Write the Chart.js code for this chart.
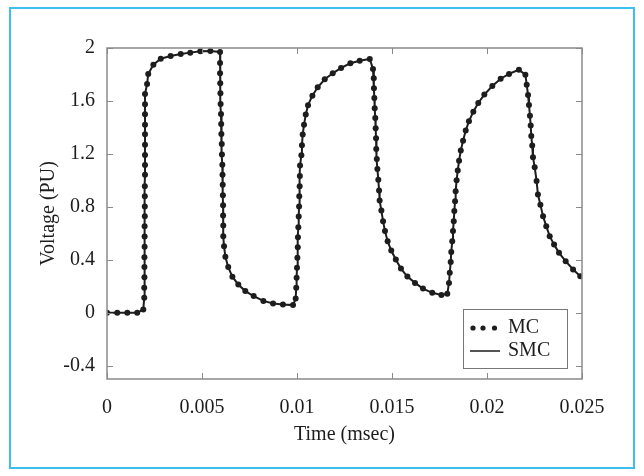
<!DOCTYPE html>
<html>
<head>
<meta charset="utf-8">
<script src="https://cdn.jsdelivr.net/npm/chart.js@4.4.1/dist/chart.umd.min.js"></script>
<style>
  html, body { margin: 0; padding: 0; background: #fff; }
  #wrap { position: relative; width: 644px; height: 476px; }
  #frame { position: absolute; left: 9px; top: 7px; width: 622px; height: 458px; border: 2px solid #3cbfef; }
  canvas { position: absolute; left: 0; top: 0; }
</style>
</head>
<body>
<div id="wrap">
  <div id="frame"></div>
  <canvas id="voltChart" width="644" height="476"></canvas>
</div>
<script>
// values (time in ms axis units, voltage in PU)
const mcTime = [
  0, 0.00054, 0.00107, 0.00159, 0.00191,
  0.00196, 0.00196, 0.00197, 0.00197, 0.00197, 0.00198, 0.00198, 0.00198, 0.00199, 0.00199, 0.00199, 0.00199,
  0.00200, 0.00200, 0.00200, 0.00200, 0.00200, 0.00200, 0.00200, 0.00200, 0.00200, 0.00211, 0.00217,
  0.00244, 0.00283, 0.00335, 0.00388, 0.00438, 0.00491, 0.00544, 0.00595,
  0.00595, 0.00595, 0.00596, 0.00597, 0.00598, 0.00600, 0.00601, 0.00602, 0.00604, 0.00605, 0.00607, 0.00608,
  0.00609, 0.00610, 0.00611, 0.00611, 0.00612, 0.00612, 0.00616, 0.00623, 0.00638, 0.00660, 0.00691, 0.00728,
  0.00772, 0.00823, 0.00874, 0.00926, 0.00979,
  0.00993, 0.00996, 0.00998, 0.01000, 0.01002, 0.01004, 0.01005, 0.01007, 0.01009, 0.01011, 0.01012, 0.01014,
  0.01015, 0.01016, 0.01023, 0.01026, 0.01030, 0.01037, 0.01046, 0.01058, 0.01081, 0.01109, 0.01146, 0.01188,
  0.01232, 0.01281, 0.01330, 0.01383,
  0.01400, 0.01404, 0.01405, 0.01407, 0.01409, 0.01412, 0.01414, 0.01416, 0.01417, 0.01420, 0.01423, 0.01428,
  0.01432, 0.01435, 0.01444, 0.01453, 0.01463, 0.01477, 0.01496, 0.01520, 0.01547, 0.01581, 0.01621, 0.01663,
  0.01712, 0.01760, 0.01791,
  0.01800, 0.01804, 0.01809, 0.01812, 0.01817, 0.01821, 0.01825, 0.01828, 0.01832, 0.01835, 0.01840, 0.01846,
  0.01853, 0.01862, 0.01874, 0.01888, 0.01905, 0.01928, 0.01954, 0.01986, 0.02028, 0.02072, 0.02116, 0.02168,
  0.02202, 0.02209, 0.02216, 0.02221, 0.02226, 0.02230, 0.02233, 0.02238, 0.02242, 0.02251, 0.02261, 0.02268,
  0.02281, 0.02295, 0.02312, 0.02330, 0.02353, 0.02379, 0.02414, 0.02453, 0.02491
];
const mcVoltage = [
  0, 0, 0, 0, 0.025,
  0.113, 0.189, 0.269, 0.345, 0.420, 0.498, 0.576, 0.654, 0.730, 0.802, 0.881, 0.956,
  1.042, 1.117, 1.192, 1.270, 1.349, 1.421, 1.500, 1.575, 1.653, 1.728, 1.804,
  1.874, 1.919, 1.940, 1.955, 1.965, 1.975, 1.977, 1.970,
  1.887, 1.809, 1.734, 1.658, 1.577, 1.502, 1.426, 1.351, 1.275, 1.195, 1.119, 1.042,
  0.968, 0.888, 0.813, 0.734, 0.659, 0.579, 0.503, 0.423, 0.345, 0.272, 0.214, 0.164,
  0.126, 0.090, 0.070, 0.063, 0.058,
  0.108, 0.189, 0.264, 0.340, 0.415, 0.496, 0.571, 0.647, 0.727, 0.802, 0.881, 0.956,
  1.034, 1.112, 1.190, 1.266, 1.346, 1.421, 1.497, 1.568, 1.640, 1.703, 1.764, 1.809,
  1.849, 1.885, 1.904, 1.917,
  1.842, 1.771, 1.696, 1.623, 1.545, 1.472, 1.394, 1.318, 1.238, 1.162, 1.087, 1.004,
  0.923, 0.848, 0.772, 0.692, 0.617, 0.541, 0.470, 0.402, 0.334, 0.274, 0.226, 0.183,
  0.151, 0.134, 0.143,
  0.226, 0.302, 0.383, 0.460, 0.541, 0.617, 0.692, 0.768, 0.843, 0.918, 1.002, 1.074,
  1.149, 1.225, 1.300, 1.376, 1.447, 1.519, 1.585, 1.648, 1.713, 1.768, 1.804, 1.836,
  1.798, 1.723, 1.645, 1.570, 1.489, 1.414, 1.336, 1.263, 1.175, 1.100, 0.996, 0.893,
  0.817, 0.730, 0.654, 0.579, 0.515, 0.453, 0.390, 0.327, 0.277
];
// SMC trace lies on top of the MC samples, ends at the right edge
const smcEndTime = 0.025;
const smcEndVoltage = 0.27;

const xTicks = [0, 0.005, 0.01, 0.015, 0.02, 0.025];
const yTicks = [-0.4, 0, 0.4, 0.8, 1.2, 1.6, 2];
const seriesNames = ['MC', 'SMC'];

const mcPoints = mcTime.map((t, i) => ({x: t, y: mcVoltage[i]}));
const smcPoints = mcPoints.concat([{x: smcEndTime, y: smcEndVoltage}]);

const ink = '#1d1d1d';
const axisGray = '#8a8a8a';
const serif = "'Liberation Serif', 'DejaVu Serif', serif";

const tickFormat = v => String(+Number(v).toFixed(3));

// inward ticks on all 4 sides + box around the plot
const boxTicks = {
  id: 'boxTicks',
  afterDatasetsDraw(chart) {
    const {ctx, chartArea: a, scales} = chart;
    ctx.save();
    ctx.strokeStyle = axisGray;
    ctx.lineWidth = 1;
    const len = 6;
    xTicks.forEach(v => {
      const px = Math.round(scales.x.getPixelForValue(v)) + 0.5;
      ctx.beginPath();
      ctx.moveTo(px, a.bottom); ctx.lineTo(px, a.bottom - len);
      ctx.moveTo(px, a.top); ctx.lineTo(px, a.top + len);
      ctx.stroke();
    });
    yTicks.forEach(v => {
      const py = Math.round(scales.y.getPixelForValue(v)) + 0.5;
      ctx.beginPath();
      ctx.moveTo(a.left, py); ctx.lineTo(a.left + len, py);
      ctx.moveTo(a.right, py); ctx.lineTo(a.right - len, py);
      ctx.stroke();
    });
    ctx.lineWidth = 1.5;
    ctx.strokeRect(a.left, a.top, a.right - a.left, a.bottom - a.top);
    ctx.restore();
  },
  afterDraw(chart) {
    // legend box in the lower right corner
    const {ctx, chartArea: a} = chart;
    const w = 104, h = 59;
    const x0 = a.right - 15 - w, y0 = a.bottom - 11 - h;
    ctx.save();
    ctx.fillStyle = '#fff';
    ctx.fillRect(x0, y0, w, h);
    ctx.strokeStyle = '#777';
    ctx.lineWidth = 1;
    ctx.strokeRect(x0 + 0.5, y0 + 0.5, w, h);
    ctx.fillStyle = ink;
    [10, 20, 31.5].forEach(dx => {
      ctx.beginPath();
      ctx.arc(x0 + dx, y0 + 19, 2.6, 0, Math.PI * 2);
      ctx.fill();
    });
    ctx.strokeStyle = ink;
    ctx.lineWidth = 1.5;
    ctx.beginPath();
    ctx.moveTo(x0 + 7, y0 + 42); ctx.lineTo(x0 + 37, y0 + 42);
    ctx.stroke();
    ctx.font = '20px ' + serif;
    ctx.textBaseline = 'middle';
    ctx.fillText(seriesNames[0], x0 + 45, y0 + 19);
    ctx.fillText(seriesNames[1], x0 + 45, y0 + 42);
    ctx.restore();
  }
};

const ctx = document.getElementById('voltChart').getContext('2d');

const voltChart = new Chart(ctx, {
  type: 'scatter',
  data: {
    datasets: [
      {
        label: seriesNames[0],
        data: mcPoints,
        showLine: false,
        pointRadius: 3,
        pointBackgroundColor: ink,
        pointBorderWidth: 0,
        order: 1
      },
      {
        label: seriesNames[1],
        data: smcPoints,
        showLine: true,
        borderColor: ink,
        borderWidth: 2,
        pointRadius: 0,
        tension: 0,
        order: 2
      }
    ]
  },
  options: {
    responsive: false,
    animation: false,
    events: [],
    layout: { padding: { left: 33, right: 62, top: 48, bottom: 25 } },
    plugins: { legend: { display: false }, tooltip: { enabled: false } },
    scales: {
      x: {
        type: 'linear',
        min: 0,
        max: 0.025,
        afterBuildTicks: s => { s.ticks = xTicks.map(v => ({value: v})); },
        afterFit: s => { s.height = 72; },
        grid: { display: false, drawTicks: false },
        border: { display: false },
        ticks: { color: ink, font: { family: serif, size: 20 }, padding: 17, callback: tickFormat, maxRotation: 0 },
        title: { display: true, text: 'Time (msec)', color: ink, font: { family: serif, size: 20 } }
      },
      y: {
        type: 'linear',
        min: -0.5,
        max: 2,
        afterBuildTicks: s => { s.ticks = yTicks.map(v => ({value: v})); },
        afterFit: s => { s.width = 74; },
        grid: { display: false, drawTicks: false },
        border: { display: false },
        ticks: { color: ink, font: { family: serif, size: 20 }, padding: 12, callback: tickFormat },
        title: { display: true, text: 'Voltage (PU)', color: ink, font: { family: serif, size: 20 } }
      }
    }
  },
  plugins: [boxTicks]
});
</script>
</body>
</html>
